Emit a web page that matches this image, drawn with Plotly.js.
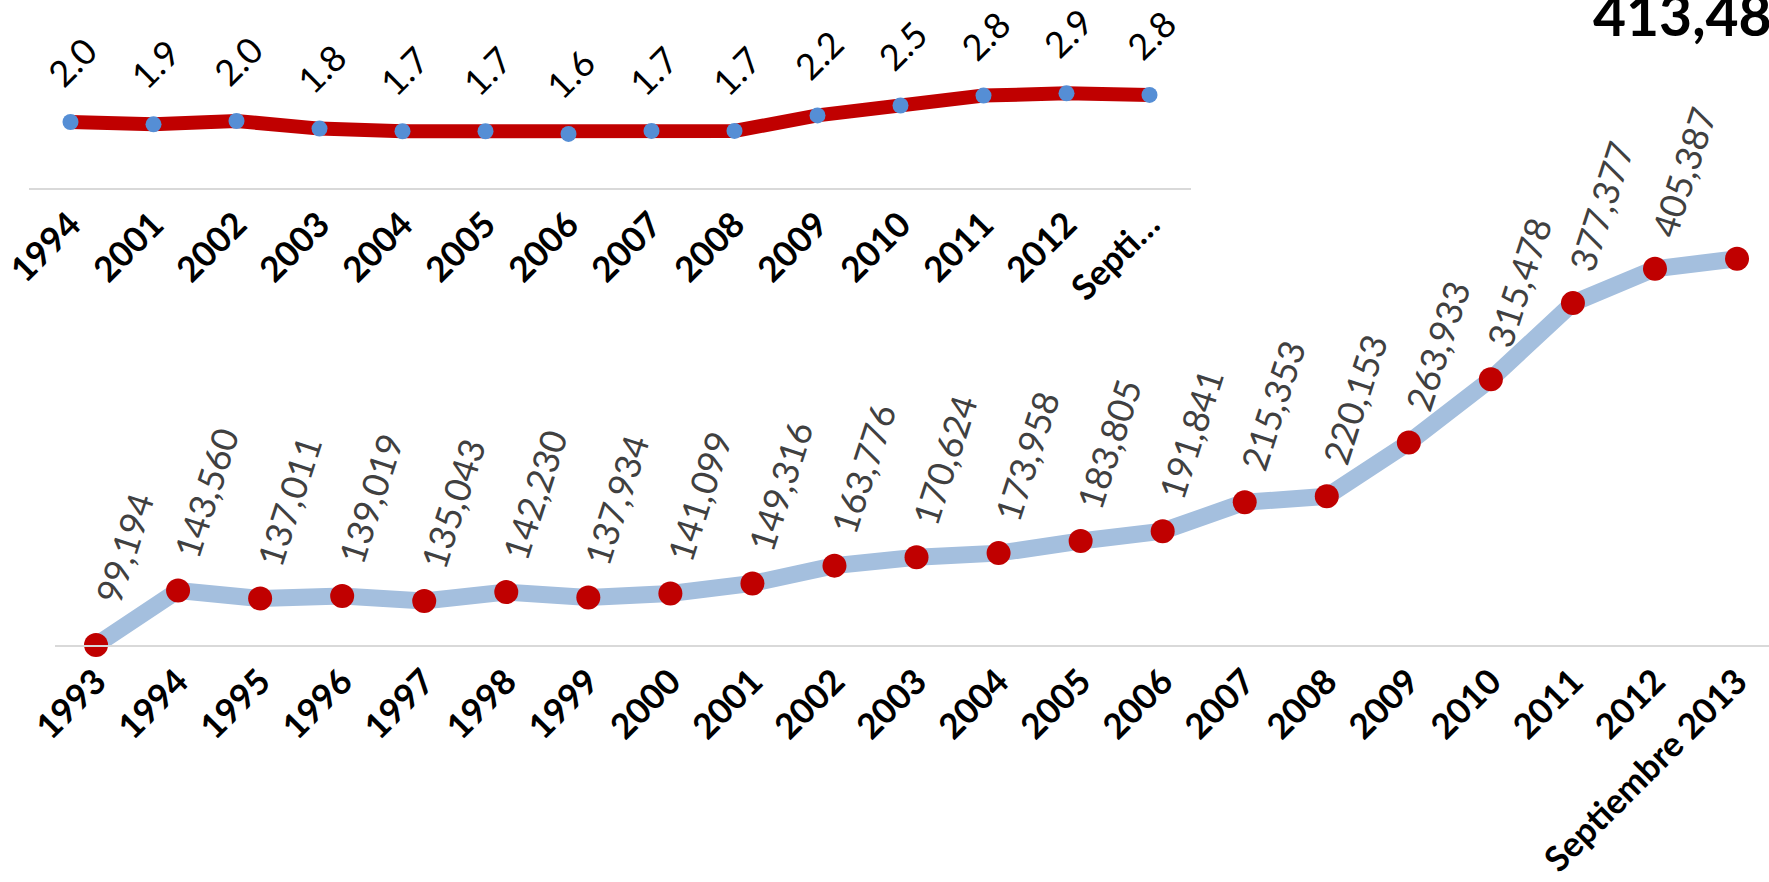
<!DOCTYPE html>
<html>
<head>
<meta charset="utf-8">
<script src="https://cdn.plot.ly/plotly-3.0.1.min.js"></script>
<style>
html,body{margin:0;padding:0;background:#fff;overflow:hidden;}
#chart{width:1769px;height:882px;}
</style>
</head>
<body>
<div id="chart"></div>
<script>
// ---- Data ----
var topCategories = ['1994','2001','2002','2003','2004','2005','2006','2007','2008','2009','2010','2011','2012','Septiembre 2013'];
var topValues = [2.0, 1.93, 2.03, 1.8, 1.72, 1.72, 1.64, 1.73, 1.73, 2.2, 2.5, 2.8, 2.87, 2.82];

var mainCategories = ['1993','1994','1995','1996','1997','1998','1999','2000','2001','2002','2003','2004','2005','2006','2007','2008','2009','2010','2011','2012','Septiembre 2013'];
var mainValues = [99194, 143560, 137011, 139019, 135043, 142230, 137934, 141099, 149316, 163776, 170624, 173958, 183805, 191841, 215353, 220153, 263933, 315478, 377377, 405387, 413480];

// ---- Styles ----
var RED = '#C00000';
var BLUE_MARK = '#558ED5';
var LIGHT_BLUE = '#A4BFDE';
var FONT = 'Lato, "Open Sans", sans-serif';

var topTickText = topCategories.map(function(c){ return c.length > 5 ? c.slice(0,5) + '\u2026' : c; });

var traces = [
  {
    type: 'scatter', mode: 'lines+markers',
    x: mainCategories, y: mainValues,
    xaxis: 'x', yaxis: 'y',
    line: {color: LIGHT_BLUE, width: 17},
    marker: {color: RED, size: 24},
    cliponaxis: false, hoverinfo: 'skip'
  },
  {
    type: 'scatter', mode: 'lines+markers',
    x: topCategories, y: topValues,
    xaxis: 'x2', yaxis: 'y2',
    line: {color: RED, width: 14},
    marker: {color: BLUE_MARK, size: 16},
    cliponaxis: false, hoverinfo: 'skip'
  }
];

var annotations = [];
topCategories.forEach(function(c, i){
  annotations.push({
    xref: 'x2', yref: 'y2', x: i, y: topValues[i],
    text: topValues[i].toFixed(1), showarrow: false,
    textangle: -45, xanchor: 'center', yanchor: 'middle',
    xshift: 1, yshift: 60,
    font: {family: FONT, size: 36, color: '#000000'}
  });
});
mainCategories.forEach(function(c, i){
  var txt = mainValues[i].toLocaleString('en-US');
  if (i === mainCategories.length - 1) {
    annotations.push({
      xref: 'paper', yref: 'paper', x: 1591/1769, y: 1 - 50/882,
      text: txt, showarrow: false, xanchor: 'left', yanchor: 'bottom',
      font: {family: FONT, size: 57, color: '#000000', weight: 700}
    });
  } else {
    annotations.push({
      xref: 'x', yref: 'y', x: i, y: mainValues[i],
      text: txt, showarrow: false,
      textangle: -72, xanchor: 'center', yanchor: 'middle',
      xshift: 28, yshift: 97,
      font: {family: FONT, size: 36, color: '#404040'}
    });
  }
});

var axisCommon = {
  type: 'category', showgrid: false, zeroline: false,
  showline: true, linecolor: '#D9D9D9', linewidth: 2,
  ticks: '', tickangle: -45,
  tickfont: {family: FONT, size: 35, color: '#000000', weight: 700}
};

var layout = {
  width: 1769, height: 882,
  margin: {l: 0, r: 0, t: 0, b: 0, pad: 0},
  paper_bgcolor: '#ffffff', plot_bgcolor: 'rgba(0,0,0,0)',
  showlegend: false,
  xaxis: Object.assign({}, axisCommon, {
    domain: [55/1769, 1], anchor: 'y',
    range: [-0.5, -0.5 + (1769-55)/82.05],
    categoryorder: 'array', categoryarray: mainCategories
  }),
  yaxis: {
    domain: [(882-645)/882, (882-177)/882], anchor: 'x',
    range: [99194, 480000], visible: false, fixedrange: true
  },
  xaxis2: Object.assign({}, axisCommon, {
    domain: [29/1769, 1191/1769], anchor: 'y2',
    range: [-0.5, topCategories.length - 0.5],
    categoryorder: 'array', categoryarray: topCategories,
    tickmode: 'array', tickvals: topCategories, ticktext: topTickText
  }),
  yaxis2: {
    domain: [(882-188)/882, 1], anchor: 'x2',
    range: [0, 188/33], visible: false, fixedrange: true
  },
  annotations: annotations
};

Plotly.newPlot('chart', traces, layout, {displayModeBar: false, staticPlot: true});
</script>
</body>
</html>
